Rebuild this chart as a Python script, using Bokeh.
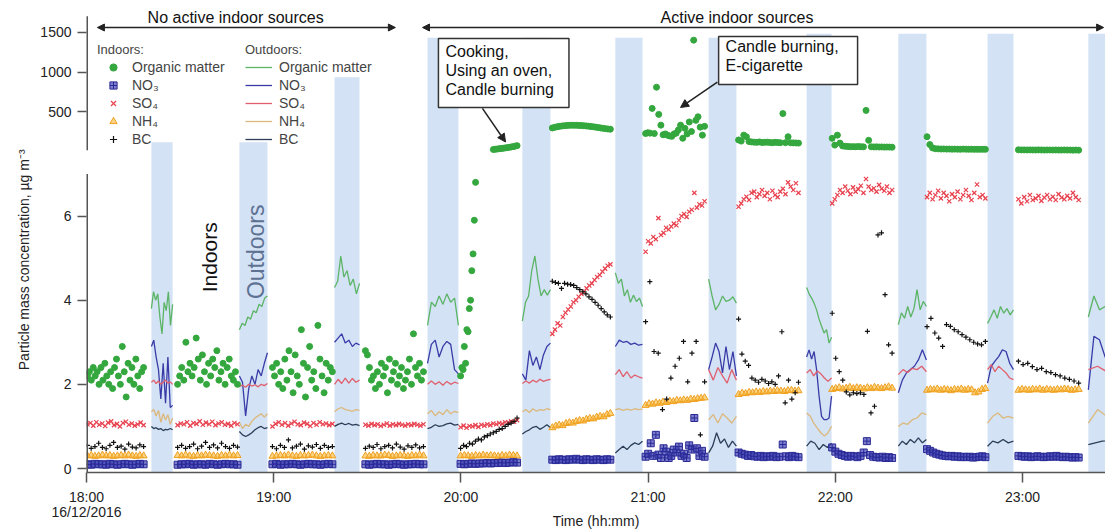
import numpy as np
from bokeh.plotting import figure
from bokeh.models import (ColumnDataSource, FixedTicker, Label, Arrow,
                          NormalHead, Legend, LegendItem, Range1d)
from bokeh.embed import file_html
from bokeh.resources import INLINE

FONT = "Liberation Sans"

# ---------------- tick labels ----------------
x_tick_minutes = [0, 60, 120, 180, 240, 300]          # minutes after 18:00
x_tick_labels = ["18:00", "19:00", "20:00", "21:00", "22:00", "23:00"]
date_text = "16/12/2016"
lower_ticks = [0, 2, 4, 6]
upper_ticks = [500, 1000, 1500]

# ---------------- outdoor sampling periods (min after 18:00) ----------------
out_start = [20.8, 49.0, 79.5, 109.3, 139.7, 169.5, 199.4, 230.8, 260.2, 288.8, 321.1]
out_end = [27.6, 58.0, 87.5, 119.2, 148.7, 178.2, 208.3, 238.8, 269.2, 297.1, 330.0]
band_top = [120, 120, 935, 1430, 1430, 1430, 1430, 1480, 1480, 1480, 1480]

# ---------------- indoor sampling periods ----------------
in_start = [0.3, 29.2, 59.6, 89.4, 119.9, 149.3, 179.2, 209.0, 239.0, 269.4, 298.7]
in_end = [18.3, 48.4, 78.8, 108.0, 138.0, 167.9, 198.1, 228.2, 258.2, 288.1, 318.0]
om_start = [0.3, 29.2, 59.6, 89.4, 119.9, 130.4, 149.3, 179.2, 209.0, 239.0, 269.4, 298.7]
om_end = [18.3, 48.4, 78.8, 108.0, 124.7, 138.0, 167.9, 198.1, 228.2, 258.2, 288.1, 318.0]

# ---------------- indoor values (ug m-3) ----------------
om_in = [
    [2.2, 2.3, 2.1, 2.4, 2.2, 2.3, 2.0, 2.4, 2.1, 2.5, 2.2, 2.0, 2.3, 1.9, 2.4, 2.6, 2.2, 2.0, 2.9, 2.3, 1.7, 2.5, 2.1, 2.4, 2.0, 2.6, 2.2, 1.9, 2.3, 2.4],
    [2.0, 2.2, 2.4, 2.1, 3.0, 2.3, 2.5, 2.2, 2.4, 3.1, 2.6, 2.1, 2.7, 2.3, 2.0, 2.5, 2.2, 2.6, 2.4, 2.8, 2.1, 2.3, 2.5, 2.0, 2.4, 2.6, 2.2, 2.1, 2.3, 2.0],
    [2.4, 2.2, 2.5, 2.0, 2.3, 1.9, 2.6, 2.1, 2.8, 2.3, 1.8, 2.7, 2.2, 2.0, 3.3, 2.5, 1.7, 2.4, 2.9, 2.1, 2.3, 1.9, 3.4, 2.6, 2.2, 1.8, 2.5, 2.1, 2.4, 2.3],
    [2.8, 2.7, 2.4, 2.1, 2.2, 1.9, 2.3, 2.0, 2.5, 2.2, 2.4, 1.8, 2.6, 2.1, 2.3, 2.5, 2.0, 2.2, 2.4, 1.9, 2.1, 2.3, 2.6, 2.0, 3.2, 2.4, 2.2, 2.5, 2.1, 2.3],
    [2.2, 2.4, 2.35, 2.9, 2.5, 3.3, 3.25, 3.8, 4.0, 4.7, 5.1, 5.9, 6.8],
    [30, 33, 36, 40, 42, 46, 50, 53, 57, 62, 66, 72, 78],
    [300, 308, 315, 320, 325, 328, 331, 333, 334, 334, 333, 332, 330, 328, 325, 322, 318, 314, 310, 305, 300, 296, 291, 287, 284],
    [230, 240, 235, 545, 230, 810, 470, 335, 215, 225, 210, 200, 195, 225, 235, 275, 335, 170, 295, 225, 375, 255, 1400, 395, 440, 310, 210, 320],
    [150, 135, 210, 190, 130, 125, 122, 120, 125, 118, 120, 122, 118, 115, 120, 117, 115, 480, 116, 190, 114, 113, 112, 110],
    [170, 85, 210, 110, 75, 70, 68, 65, 66, 64, 67, 65, 63, 520, 145, 64, 62, 63, 61, 62, 60, 61, 60, 59],
    [190, 92, 50, 40, 38, 36, 37, 35, 36, 34, 35, 34, 33, 35, 34, 33, 34, 32, 33, 32, 33, 32],
    [26, 25, 25, 24, 25, 24, 24, 25, 24, 23, 24, 24, 23, 24, 23, 23, 24, 23, 23, 22, 23, 22],
]
no3_in = [
    [0.10, 0.09, 0.11, 0.10, 0.10, 0.09, 0.11, 0.10, 0.09, 0.10, 0.11, 0.10, 0.09, 0.10, 0.11, 0.10],
    [0.09, 0.10, 0.10, 0.11, 0.09, 0.10, 0.10, 0.09, 0.11, 0.10, 0.09, 0.10, 0.11, 0.10, 0.10, 0.09],
    [0.10, 0.11, 0.09, 0.10, 0.10, 0.11, 0.10, 0.09, 0.10, 0.11, 0.10, 0.10, 0.09, 0.10, 0.11, 0.10],
    [0.10, 0.09, 0.10, 0.11, 0.10, 0.10, 0.09, 0.10, 0.11, 0.10, 0.09, 0.10, 0.10, 0.11, 0.10, 0.10],
    [0.11, 0.10, 0.11, 0.12, 0.11, 0.12, 0.12, 0.13, 0.12, 0.13, 0.13, 0.14, 0.13, 0.14, 0.15, 0.14],
    [0.21, 0.20, 0.22, 0.21, 0.20, 0.22, 0.21, 0.23, 0.21, 0.20, 0.22, 0.21, 0.20, 0.22, 0.21, 0.20, 0.22, 0.21],
    [0.28, 0.35, 0.60, 0.30, 0.80, 0.33, 0.25, 0.48, 0.40, 0.25, 0.30, 0.45, 0.38, 0.52, 0.30, 0.35, 0.25, 0.55, 0.45, 1.20, 0.48, 0.30, 0.42, 0.28],
    [0.38, 0.35, 0.33, 0.30, 0.32, 0.29, 0.28, 0.30, 0.27, 0.29, 0.28, 0.30, 0.27, 0.28, 0.57, 0.29, 0.27, 0.30, 0.28, 0.27],
    [0.50, 0.40, 0.35, 0.32, 0.30, 0.28, 0.30, 0.29, 0.27, 0.30, 0.38, 0.65, 0.32, 0.28, 0.27, 0.26, 0.28, 0.25, 0.27, 0.25],
    [0.46, 0.42, 0.38, 0.35, 0.33, 0.31, 0.30, 0.29, 0.30, 0.28, 0.29, 0.27, 0.28, 0.27, 0.28, 0.26, 0.27, 0.28, 0.29, 0.27],
    [0.30, 0.29, 0.28, 0.29, 0.27, 0.28, 0.29, 0.28, 0.27, 0.28, 0.29, 0.28, 0.30, 0.28, 0.27, 0.28, 0.27, 0.26, 0.27, 0.26],
]
so4_in = [
    [1.05, 1.08, 1.02, 1.10, 1.04, 1.07, 1.01, 1.09, 1.12, 1.03, 1.06, 1.00, 1.08, 1.11, 1.04, 1.07, 1.02, 1.05, 1.09, 1.03],
    [1.03, 1.07, 1.05, 1.10, 1.02, 1.08, 1.06, 1.12, 1.04, 1.09, 1.05, 1.11, 1.03, 1.07, 1.10, 1.04, 1.06, 1.02, 1.08, 1.05],
    [1.00, 1.06, 1.10, 1.04, 1.08, 1.02, 1.07, 1.11, 1.05, 1.03, 1.09, 1.06, 1.01, 1.08, 1.04, 1.10, 1.05, 1.07, 1.03, 1.06],
    [1.04, 1.02, 1.06, 1.03, 1.05, 1.01, 1.04, 1.07, 1.02, 1.05, 1.03, 1.06, 1.04, 1.02, 1.05, 1.03, 1.06, 1.04, 1.02, 1.05],
    [0.98, 1.02, 0.97, 1.01, 1.00, 1.03, 0.99, 1.04, 1.02, 1.05, 1.03, 1.07, 1.05, 1.08, 1.06, 1.10, 1.09, 1.12, 1.11, 1.15],
    [3.20, 3.30, 3.45, 3.40, 3.60, 3.70, 3.78, 3.85, 3.95, 4.00, 4.08, 4.15, 4.20, 4.28, 4.35, 4.40, 4.48, 4.55, 4.60, 4.68, 4.75, 4.82, 4.85],
    [5.15, 5.40, 5.35, 5.50, 5.45, 5.95, 5.55, 5.60, 5.72, 5.68, 5.75, 5.82, 5.78, 5.90, 6.00, 6.05, 5.98, 6.10, 6.15, 6.55, 6.20, 6.28, 6.25, 6.35],
    [6.22, 6.30, 6.40, 6.46, 6.38, 6.55, 6.58, 6.45, 6.52, 6.62, 6.48, 6.55, 6.40, 6.60, 6.50, 6.45, 6.58, 6.65, 6.52, 6.80, 6.70, 6.62, 6.78, 6.55],
    [6.30, 6.40, 6.50, 6.62, 6.55, 6.70, 6.60, 6.52, 6.68, 6.58, 6.64, 6.72, 6.55, 6.88, 6.70, 6.62, 6.66, 6.58, 6.74, 6.65, 6.60, 6.70, 6.55, 6.62],
    [6.45, 6.55, 6.40, 6.50, 6.60, 6.42, 6.55, 6.48, 6.35, 6.52, 6.45, 6.58, 6.40, 6.50, 6.62, 6.48, 6.38, 6.55, 6.75, 6.45, 6.50, 6.42],
    [6.40, 6.30, 6.45, 6.35, 6.50, 6.38, 6.42, 6.48, 6.36, 6.44, 6.50, 6.40, 6.46, 6.38, 6.52, 6.44, 6.40, 6.48, 6.42, 6.55, 6.45, 6.38],
]
nh4_in = [
    [0.30, 0.31, 0.29, 0.30, 0.32, 0.30, 0.31, 0.29, 0.30, 0.31, 0.30, 0.32, 0.30, 0.29, 0.31, 0.30],
    [0.31, 0.30, 0.32, 0.30, 0.29, 0.31, 0.30, 0.32, 0.31, 0.30, 0.29, 0.31, 0.30, 0.32, 0.30, 0.31],
    [0.29, 0.30, 0.31, 0.30, 0.32, 0.30, 0.29, 0.31, 0.30, 0.31, 0.32, 0.30, 0.29, 0.30, 0.31, 0.30],
    [0.30, 0.29, 0.31, 0.30, 0.30, 0.32, 0.31, 0.29, 0.30, 0.31, 0.30, 0.29, 0.31, 0.30, 0.32, 0.30],
    [0.30, 0.31, 0.30, 0.29, 0.31, 0.30, 0.32, 0.30, 0.31, 0.30, 0.29, 0.31, 0.30, 0.32, 0.31, 0.30],
    [0.97, 1.01, 1.03, 1.02, 1.07, 1.09, 1.08, 1.12, 1.14, 1.13, 1.17, 1.19, 1.18, 1.22, 1.24, 1.23, 1.28, 1.31],
    [1.50, 1.54, 1.53, 1.56, 1.55, 1.58, 1.57, 1.60, 1.59, 1.62, 1.61, 1.63, 1.62, 1.65, 1.64, 1.66, 1.67, 1.68],
    [1.76, 1.79, 1.78, 1.81, 1.80, 1.82, 1.81, 1.83, 1.82, 1.84, 1.83, 1.85, 1.84, 1.83, 1.85, 1.86, 1.84, 1.85],
    [1.88, 1.90, 1.92, 1.89, 1.91, 1.93, 1.90, 1.92, 1.91, 1.89, 1.92, 1.90, 1.93, 1.91, 1.90, 1.92, 1.94, 1.91],
    [1.86, 1.88, 1.87, 1.89, 1.86, 1.88, 1.87, 1.85, 1.88, 1.87, 1.89, 1.86, 1.88, 1.87, 1.80, 1.82, 1.88, 1.90],
    [1.86, 1.88, 1.87, 1.86, 1.88, 1.87, 1.89, 1.86, 1.88, 1.87, 1.86, 1.88, 1.87, 1.89, 1.88, 1.86, 1.87, 1.88],
]
bc_in = [
    [0.55, 0.48, 0.52, 0.60, 0.50, 0.47, 0.55, 0.62, 0.50, 0.53, 0.46, 0.58, 0.51, 0.49, 0.56, 0.52],
    [0.50, 0.55, 0.48, 0.52, 0.58, 0.47, 0.53, 0.62, 0.50, 0.56, 0.49, 0.60, 0.52, 0.48, 0.55, 0.51],
    [0.52, 0.47, 0.55, 0.50, 0.68, 0.49, 0.53, 0.58, 0.46, 0.54, 0.51, 0.57, 0.48, 0.55, 0.50, 0.52],
    [0.48, 0.53, 0.50, 0.57, 0.47, 0.52, 0.55, 0.49, 0.58, 0.51, 0.46, 0.54, 0.50, 0.56, 0.49, 0.52],
    [0.48, 0.55, 0.52, 0.60, 0.58, 0.65, 0.70, 0.68, 0.75, 0.78, 0.82, 0.85, 0.88, 0.93, 0.95, 1.00, 1.05, 1.08, 1.12, 1.20],
    [4.45, 4.42, 4.40, 4.28, 4.40, 4.38, 4.37, 4.35, 4.30, 4.25, 4.20, 4.15, 4.08, 4.02, 3.95, 3.88, 3.80, 3.72, 3.65, 3.60],
    [3.49, 4.44, 2.78, 2.74, 1.40, 1.65, 2.15, 2.43, 2.62, 3.02, 2.06, 2.74, 3.02, 0.80, 2.06],
    [3.55, 2.72, 2.55, 2.45, 2.15, 2.10, 2.05, 2.12, 2.08, 2.02, 2.06, 2.00, 2.20, 3.25, 1.56, 2.10, 1.65, 1.80, 2.05],
    [3.69, 2.62, 2.30, 2.10, 1.82, 1.75, 1.80, 1.78, 1.80, 1.76, 3.26, 1.32, 1.48, 5.55, 5.60, 4.13, 2.94, 2.74],
    [3.37, 3.57, 3.22, 3.10, 2.90, 3.42, 3.38, 3.30, 3.25, 3.18, 3.12, 3.06, 3.00, 2.96, 2.94, 3.02],
    [2.55, 2.47, 2.50, 2.42, 2.35, 2.38, 2.30, 2.28, 2.23, 2.20, 2.15, 2.12, 2.08, 2.03],
]

# ---------------- outdoor values (ug m-3) ----------------
om_out = [
    [3.8, 4.2, 4.0, 4.15, 3.6, 3.2, 3.95, 3.75, 4.2, 3.4, 3.9],
    [3.3, 3.45, 3.4, 3.6, 3.55, 3.75, 3.7, 3.9, 3.85, 4.05, 4.1],
    [4.3, 4.45, 5.05, 4.55, 4.7, 4.35, 4.5, 4.15, 4.4],
    [3.4, 3.95, 3.85, 4.1, 3.9, 4.15, 3.95, 4.05, 3.4],
    [3.5, 3.95, 4.1, 4.7, 5.05, 4.5, 4.1, 4.25, 4.12, 4.25],
    [4.65, 4.4, 4.5, 4.1, 4.25, 3.95, 4.12, 3.97, 4.05, 3.85],
    [4.5, 4.1, 3.77, 3.9, 4.1, 3.97, 4.0, 4.08, 3.93],
    [4.3, 4.15, 4.05, 3.93, 3.77, 3.55, 3.38, 3.22, 3.3, 2.98, 3.12],
    [3.42, 3.7, 3.57, 3.85, 3.6, 3.8, 4.25, 3.77, 3.97, 3.85],
    [3.45, 3.6, 3.77, 3.57, 3.85, 3.69, 3.8, 3.65, 3.77],
    [3.6, 4.1, 3.77, 3.85, 3.77, 3.93],
]
no3_out = [
    [2.9, 3.05, 2.65, 2.35, 1.65, 2.5, 1.55, 2.65, 1.45, 1.5],
    [2.2, 2.05, 1.25, 1.9, 2.2, 2.0, 2.35, 2.2, 2.5, 2.75],
    [3.0, 3.1, 3.2, 2.98, 3.05, 2.9, 2.98, 2.94],
    [2.5, 2.95, 3.05, 2.65, 2.9, 3.02, 2.95, 2.35, 2.25],
    [2.25, 2.1, 2.8, 2.45, 2.65, 2.35, 2.7, 2.9, 2.98],
    [2.9, 3.05, 3.0, 3.02, 2.95, 2.98, 2.93, 2.95],
    [2.35, 2.65, 2.98, 2.78, 2.27, 2.9, 2.35, 2.78, 2.2],
    [2.65, 2.82, 2.6, 2.78, 2.35, 1.72, 1.24, 1.16, 1.16, 1.2, 1.72],
    [1.8, 2.1, 2.27, 2.35, 2.43, 2.58, 2.82, 2.58],
    [2.03, 2.43, 2.55, 2.66, 2.82, 2.78, 2.5, 2.35],
    [1.87, 3.14, 3.06, 2.66, 2.43, 2.35],
]
so4_out = [
    [2.05, 2.1, 2.02, 2.08, 2.0, 2.05, 2.1, 2.03, 2.06, 2.0],
    [1.95, 1.98, 1.93, 2.0, 1.96, 1.99, 1.94, 2.0, 1.97, 2.02],
    [2.0, 2.12, 2.02, 2.15, 2.03, 2.14, 2.05, 2.1],
    [2.0, 2.08, 2.0, 2.06, 1.98, 2.07, 2.0, 2.05, 2.02],
    [2.02, 2.08, 2.03, 2.1, 2.05, 2.12, 2.07, 2.1, 2.12],
    [2.23, 2.35, 2.18, 2.3, 2.15, 2.22, 2.18, 2.15],
    [2.35, 2.1, 2.4, 2.2, 2.03, 2.35, 2.1],
    [2.27, 2.35, 2.2, 2.32, 2.25, 2.15, 2.07, 2.15],
    [2.23, 2.35, 2.28, 2.38, 2.35, 2.43, 2.3],
    [2.35, 2.47, 2.3, 2.43, 2.35, 2.27, 2.15, 2.11],
    [2.35, 2.43, 2.3, 2.38],
]
nh4_out = [
    [1.35, 1.4, 1.25, 1.38, 1.1, 1.3, 1.15, 1.28, 1.05, 1.2],
    [1.1, 0.95, 1.05, 1.0, 1.12, 1.2, 1.25, 1.3, 1.22, 1.3],
    [1.35, 1.42, 1.45, 1.4, 1.38, 1.36, 1.4, 1.38],
    [1.3, 1.38, 1.25, 1.35, 1.28, 1.4, 1.3, 1.36, 1.33],
    [1.35, 1.4, 1.33, 1.42, 1.36, 1.4, 1.38, 1.42, 1.4],
    [1.4, 1.42, 1.38, 1.41, 1.39, 1.42, 1.4, 1.41],
    [1.16, 1.28, 1.08, 1.3, 1.2, 1.08, 1.24],
    [1.32, 1.25, 1.08, 0.96, 0.85, 0.77, 0.85, 1.0],
    [1.0, 1.08, 1.05, 1.16, 1.2, 1.32, 1.28],
    [1.08, 1.24, 1.32, 1.2, 1.24, 1.2],
    [1.08, 1.4, 1.24, 1.2],
]
bc_out = [
    [1.0, 0.95, 0.97, 0.93, 0.95, 0.9, 0.93, 0.92, 0.95, 0.92],
    [0.88, 0.8, 0.76, 0.8, 0.85, 0.92, 0.97, 1.0, 0.95, 0.97],
    [1.0, 1.05, 1.08, 1.04, 1.07, 1.03, 1.05, 1.02],
    [0.95, 0.98, 1.04, 1.0, 1.02, 1.06, 1.08, 1.03, 1.05],
    [0.82, 0.88, 0.92, 0.98, 1.0, 0.93, 0.98, 1.04, 0.97],
    [0.37, 0.45, 0.53, 0.45, 0.55, 0.61, 0.57, 0.65],
    [0.37, 0.53, 0.85, 0.6, 0.7, 0.5, 0.65, 0.53],
    [0.53, 0.65, 0.6, 0.45, 0.57, 0.5, 0.6],
    [0.53, 0.65, 0.57, 0.69, 0.61, 0.73, 0.61, 0.69],
    [0.53, 0.65, 0.61, 0.69, 0.61, 0.65],
    [0.57, 0.65, 0.69],
]

species = ["Organic matter", "NO\u2083", "SO\u2084", "NH\u2084", "BC"]

# ---------------- broken-axis layout ----------------
LOW_TOP = 7.0                  # top of the lower (0-7) axis
UP_MIN, UP_MAX = 20.0, 1700.0  # extent of the upper axis
UP_Y0, UP_Y1 = 7.562, 10.749   # where the upper axis sits in plot units
Y_START, Y_END = -0.095, 11.122
X_END = 326.6


def to_y(v):
    v = np.asarray(v, dtype=float)
    up = UP_Y0 + (v - UP_MIN) * (UP_Y1 - UP_Y0) / (UP_MAX - UP_MIN)
    out = np.where(v <= LOW_TOP, v, up)
    return np.where((v > LOW_TOP) & (v < UP_MIN), np.nan, out)


def indoor_source(starts, ends, segs):
    xs, ys = [], []
    for s, e, vals in zip(starts, ends, segs):
        xs.extend(np.linspace(s, e, len(vals)))
        ys.extend(vals)
    return ColumnDataSource(dict(x=np.array(xs), y=to_y(ys)))


def outdoor_source(segs):
    xs = [list(np.linspace(s, e, len(v))) for s, e, v in zip(out_start, out_end, segs)]
    ys = [list(v) for v in segs]
    return ColumnDataSource(dict(xs=xs, ys=ys))


p = figure(width=1105, height=531, output_backend="svg", toolbar_location=None, tools="",
           x_range=Range1d(0, X_END), y_range=Range1d(Y_START, Y_END),
           min_border_left=86, min_border_right=0, min_border_top=0, min_border_bottom=58)
p.outline_line_color = None
p.xgrid.visible = False
p.ygrid.visible = False

# outdoor sampling bands
p.quad(left=out_start, right=out_end, bottom=Y_START, top=to_y(band_top),
       fill_color="#d3e2f4", line_color=None)

# outdoor lines
out_colors = ["#5cb466", "#3b3ba8", "#e0606e", "#dcb87c", "#2c3e58"]
out_lines = []
for segs, col in zip([om_out, no3_out, so4_out, nh4_out, bc_out], out_colors):
    out_lines.append(p.multi_line(xs="xs", ys="ys", source=outdoor_source(segs),
                                  line_color=col, line_width=1.3))

# indoor points
r_nh4 = p.scatter("x", "y", source=indoor_source(in_start, in_end, nh4_in), marker="triangle",
                  size=7, fill_color="#f7b733", fill_alpha=0.6, line_color="#f0a020", line_width=1)
r_no3 = p.scatter("x", "y", source=indoor_source(in_start, in_end, no3_in), marker="square_cross",
                  size=7, fill_color="#4646b8", fill_alpha=0.7, line_color="#2a2a96", line_width=1)
r_so4 = p.scatter("x", "y", source=indoor_source(in_start, in_end, so4_in), marker="x",
                  size=6, line_color="#e8424f", line_width=1.2)
r_bc = p.scatter("x", "y", source=indoor_source(in_start, in_end, bc_in), marker="cross",
                 size=5, line_color="#111111", line_width=1.2)
r_om = p.scatter("x", "y", source=indoor_source(om_start, om_end, om_in), marker="circle",
                 size=6, fill_color="#34a83e", line_color="#34a83e")

# ---------------- axes ----------------
x_labels = list(x_tick_labels)
x_labels[0] = x_labels[0] + "\n" + date_text
xa = p.xaxis[0]
xa.ticker = FixedTicker(ticks=x_tick_minutes)
xa.major_label_overrides = dict(zip(x_tick_minutes, x_labels))
xa.major_tick_out = 10
xa.major_tick_in = 0
xa.minor_tick_line_color = None
xa.axis_line_color = "#555555"
xa.axis_line_width = 1.5
xa.major_tick_line_color = "#555555"
xa.major_tick_line_width = 1.5
xa.major_label_text_font = FONT
xa.major_label_text_font_size = "14px"
xa.major_label_text_line_height = 0.95
xa.major_label_text_color = "#222222"
xa.major_label_standoff = 6
xa.axis_label = "Time (hh:mm)"
xa.axis_label_text_font = FONT
xa.axis_label_text_font_size = "14px"
xa.axis_label_text_font_style = "normal"
xa.axis_label_text_color = "#222222"
xa.axis_label_standoff = -10

up_tick_y = [round(float(to_y(v)), 5) for v in upper_ticks]
ya = p.yaxis[0]
ya.ticker = FixedTicker(ticks=lower_ticks + up_tick_y)
ya.major_label_overrides = {t: str(v) for t, v in zip(up_tick_y, upper_ticks)}
ya.axis_line_color = None
ya.major_tick_out = 9
ya.major_tick_in = 0
ya.minor_tick_line_color = None
ya.major_tick_line_color = "#555555"
ya.major_tick_line_width = 1.5
ya.major_label_text_font = FONT
ya.major_label_text_font_size = "14px"
ya.major_label_text_color = "#222222"
ya.major_label_standoff = 6
ya.axis_label = "Particle mass concentration, \u00b5g m\u207b\u00b3" + "\u00a0" * 12
ya.axis_label_text_font = FONT
ya.axis_label_text_font_size = "14px"
ya.axis_label_text_font_style = "normal"
ya.axis_label_text_color = "#222222"
ya.axis_label_standoff = 5

# broken y-axis lines
p.segment(x0=[0, 0], y0=[Y_START, UP_Y0], x1=[0, 0], y1=[LOW_TOP, UP_Y1],
          line_color="#555555", line_width=3)

# ---------------- legends ----------------
leg_common = dict(padding=0, margin=0, spacing=0, glyph_height=18, label_height=18,
                  label_text_font=FONT, label_text_font_size="14px",
                  title_text_font=FONT, title_text_font_size="13px",
                  title_text_font_style="normal", title_standoff=1,
                  background_fill_alpha=0, border_line_color=None)
leg_in = Legend(items=[LegendItem(label=s, renderers=[r]) for s, r in
                       zip(species, [r_om, r_no3, r_so4, r_nh4, r_bc])],
                title="Indoors:", location=(11, 324), glyph_width=32, label_standoff=3,
                **leg_common)
leg_out = Legend(items=[LegendItem(label=s, renderers=[r]) for s, r in zip(species, out_lines)],
                 title="Outdoors:", location=(159, 324), glyph_width=27, label_standoff=7,
                 **leg_common)
p.add_layout(leg_in)
p.add_layout(leg_out)


# ---------------- annotations ----------------
def txt(x, y, t, size="16px", color="#111111", angle=0.0, align="center"):
    p.add_layout(Label(x=x, y=y, text=t, text_font=FONT, text_font_size=size,
                       text_color=color, angle=angle, text_align=align,
                       text_baseline="middle"))


txt(47.8, 10.72, "No active indoor sources")
txt(208.5, 10.72, "Active indoor sources")
for xs_, xe_ in [(3.5, 99.0), (107.7, 326.0)]:
    p.add_layout(Arrow(start=NormalHead(size=7, fill_color="#222222", line_color="#222222"),
                       end=NormalHead(size=7, fill_color="#222222", line_color="#222222"),
                       x_start=xs_, y_start=10.48, x_end=xe_, y_end=10.48,
                       line_color="#222222", line_width=1.5))

txt(39.4, 5.02, "Indoors", size="21px", angle=np.pi / 2)
txt(54.2, 5.15, "Outdoors", size="23px", color="#5d7193", angle=np.pi / 2)

box_style = dict(text_font=FONT, text_font_size="16px", text_line_height=1.12,
                 text_color="#111111", anchor="top_left", text_align="left",
                 background_fill_color="white", border_line_color="#333333",
                 border_line_width=1.5)
p.add_layout(Label(x=112.8, y=10.221, text="Cooking,\nUsing an oven,\nCandle burning",
                   padding=(7, 15, 5, 9), **box_style))
p.add_layout(Label(x=202.6, y=10.268, text="Candle burning,\nE-cigarette",
                   padding=(7, 19, 2, 10), **box_style))
p.add_layout(Arrow(end=NormalHead(size=8, fill_color="#222222", line_color="#222222"),
                   x_start=126.9, y_start=8.56, x_end=134.3, y_end=7.76,
                   line_color="#222222", line_width=1.5))
p.add_layout(Arrow(end=NormalHead(size=8, fill_color="#222222", line_color="#222222"),
                   x_start=202.2, y_start=9.18, x_end=190.4, y_end=8.58,
                   line_color="#222222", line_width=1.5))

open("out.html", "w").write(file_html(p, INLINE))
